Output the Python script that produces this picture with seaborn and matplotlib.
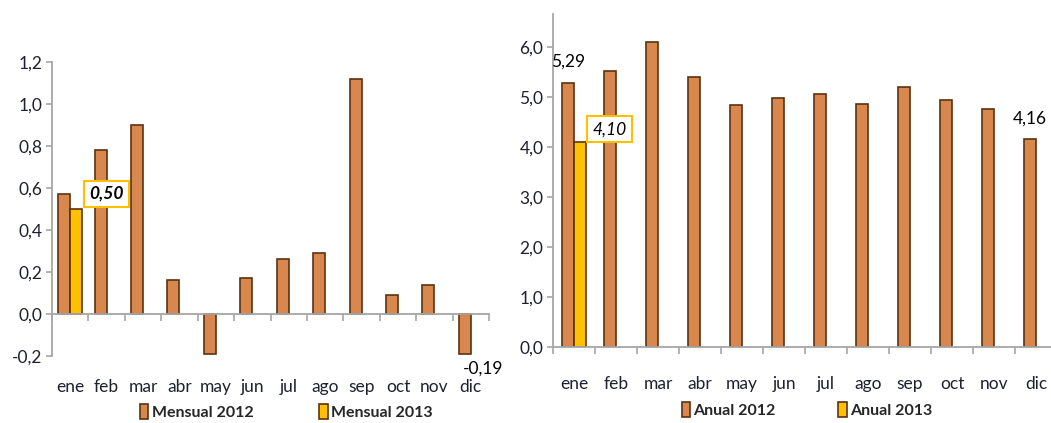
import numpy as np
import pandas as pd
import matplotlib
matplotlib.use("Agg")
import matplotlib.pyplot as plt
import seaborn as sns
from matplotlib.patches import Patch
from matplotlib.ticker import FuncFormatter

# ---------------- data ----------------
meses = ["ene", "feb", "mar", "abr", "may", "jun", "jul", "ago", "sep", "oct", "nov", "dic"]
mensual_2012 = [0.57, 0.78, 0.90, 0.16, -0.19, 0.17, 0.26, 0.29, 1.12, 0.09, 0.14, -0.19]
meses_2013 = ["ene"]
mensual_2013 = [0.50]
anual_2012 = [5.29, 5.52, 6.11, 5.41, 4.84, 4.99, 5.07, 4.87, 5.21, 4.94, 4.77, 4.16]
anual_2013 = [4.10]
series_mensual = ["Mensual 2012", "Mensual 2013"]
series_anual = ["Anual 2012", "Anual 2013"]
yticks_mensual = [-0.2, 0.0, 0.2, 0.4, 0.6, 0.8, 1.0, 1.2]
yticks_anual = [0.0, 1.0, 2.0, 3.0, 4.0, 5.0, 6.0]

# ---------------- style ----------------
sns.set_theme(style="white")
plt.rcParams["font.family"] = ["Lato", "DejaVu Sans"]
C2012 = "#D8884F"
C2013 = "#FFC000"
EDGE = "#5A3210"
AXC = "#A6A6A6"
TXT = "#1F2030"
FS = 12.5
LFS = 11.5

def build(m12, m13_months, m13, names):
    return pd.DataFrame({"mes": meses + m13_months,
                         "valor": m12 + m13,
                         "serie": [names[0]] * len(meses) + [names[1]] * len(m13_months)})

fmt1 = FuncFormatter(lambda v, p: f"{v:.1f}".replace(".", ","))
fmt2 = lambda v: f"{v:.2f}".replace(".", ",")

fig = plt.figure(figsize=(10.51, 4.23), dpi=100)
ax1 = fig.add_axes([0.0495, 0.1584, 0.4158, 0.695])
ax2 = fig.add_axes([0.5262, 0.179, 0.4795, 0.788])

def style_axes(ax, ylim, yticks, pad):
    for s in ["top", "right"]:
        ax.spines[s].set_visible(False)
    for s in ["left", "bottom"]:
        ax.spines[s].set_color(AXC)
        ax.spines[s].set_linewidth(1.3)
    ax.set_ylim(*ylim)
    ax.set_yticks(yticks)
    ax.yaxis.set_major_formatter(fmt1)
    ax.tick_params(axis="y", which="major", direction="out", length=4, width=1.2,
                   color=AXC, labelsize=FS, labelcolor=TXT, pad=3, left=True)
    ax.set_xticks(np.arange(-0.5, len(meses), 1.0), minor=True)
    ax.tick_params(axis="x", which="minor", direction="out", length=5, width=1.2,
                   color=AXC, bottom=True)
    ax.tick_params(axis="x", which="major", length=0, labelsize=FS, labelcolor=TXT, pad=pad)
    ax.set_xlim(-0.5, len(meses) - 0.5)
    ax.set_xlabel("")
    ax.set_ylabel("")
    ax.grid(False)

# ---------- left: mensual ----------
df1 = build(mensual_2012, meses_2013, mensual_2013, series_mensual)
sns.barplot(data=df1, x="mes", y="valor", hue="serie", order=meses, hue_order=series_mensual,
            palette=[C2012, C2013], saturation=1, width=0.66, edgecolor=EDGE, linewidth=1.2,
            legend=False, ax=ax1)
style_axes(ax1, (-0.2, 1.2), yticks_mensual, 47)
ax1.spines["bottom"].set_position(("data", 0))

b13 = ax1.containers[1][0]
ax1.annotate(fmt2(mensual_2013[0]),
             xy=(b13.get_x() + b13.get_width(), b13.get_height()),
             xytext=(5, 11), textcoords="offset points", ha="left", va="center",
             fontsize=FS, fontweight="bold", fontstyle="italic", color="black",
             bbox=dict(boxstyle="square,pad=0.3", fc="white", ec=C2013, lw=1.5))
bdic = ax1.containers[0][11]
ax1.annotate(fmt2(mensual_2012[11]),
             xy=(bdic.get_x(), mensual_2012[11]), xytext=(3, -5), textcoords="offset points",
             ha="left", va="top", fontsize=FS, color="black")

h1 = [Patch(facecolor=C2012, edgecolor=EDGE, lw=1.2), Patch(facecolor=C2013, edgecolor=EDGE, lw=1.2)]
fig.legend(h1, series_mensual, loc="center", bbox_to_anchor=(286 / 1051, 1 - 412 / 423),
           ncol=2, frameon=False, handlelength=0.55, handleheight=1.05, handletextpad=0.2,
           columnspacing=4.1, prop={"weight": "bold", "size": LFS})

# ---------- right: anual ----------
df2 = build(anual_2012, meses_2013, anual_2013, series_anual)
sns.barplot(data=df2, x="mes", y="valor", hue="serie", order=meses, hue_order=series_anual,
            palette=[C2012, C2013], saturation=1, width=0.58, edgecolor=EDGE, linewidth=1.2,
            legend=False, ax=ax2)
style_axes(ax2, (0, 6.67), yticks_anual, 21)

c12 = ax2.containers[0]
for i in (0, 11):
    b = c12[i]
    ax2.annotate(fmt2(anual_2012[i]),
                 xy=(b.get_x() + b.get_width() / 2, anual_2012[i]), xytext=(0, 15),
                 textcoords="offset points", ha="center", va="center", fontsize=FS, color="black")
ba13 = ax2.containers[1][0]
ax2.annotate(fmt2(anual_2013[0]),
             xy=(ba13.get_x() + ba13.get_width(), anual_2013[0]), xytext=(4.5, 9.5),
             textcoords="offset points", ha="left", va="center", fontsize=FS,
             fontstyle="italic", color="black",
             bbox=dict(boxstyle="square,pad=0.3", fc="white", ec=C2013, lw=1.5))

h2 = [Patch(facecolor=C2012, edgecolor=EDGE, lw=1.2), Patch(facecolor=C2013, edgecolor=EDGE, lw=1.2)]
fig.legend(h2, series_anual, loc="center", bbox_to_anchor=(807 / 1051, 1 - 410 / 423),
           ncol=2, frameon=False, handlelength=0.55, handleheight=1.05,
           handletextpad=0.2, columnspacing=3.9, prop={"weight": "bold", "size": LFS})

fig.savefig("out.png", dpi=100)
